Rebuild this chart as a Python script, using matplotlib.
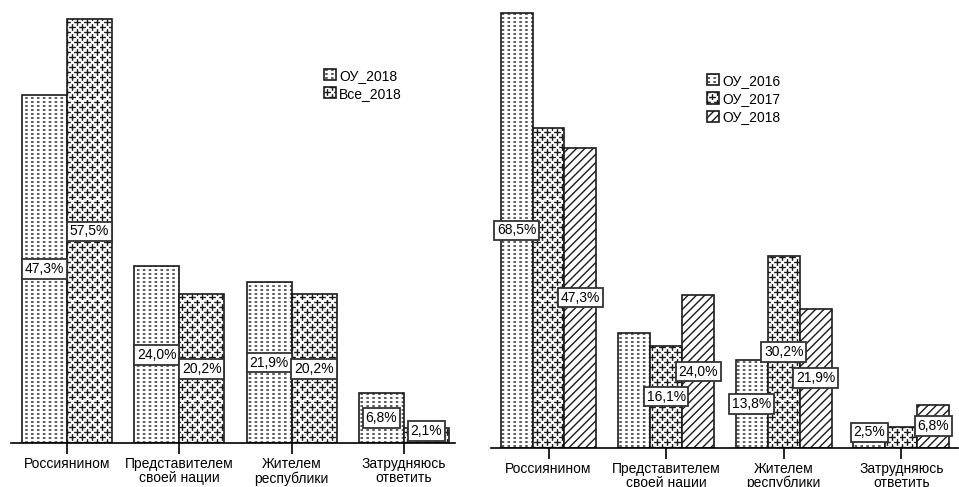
"""Two grouped bar panels: self-identification answers (share of respondents),
left panel ОУ_2018 vs Все_2018, right panel ОУ_2016 / ОУ_2017 / ОУ_2018.
"""

import numpy as np
import matplotlib

matplotlib.use("Agg")
import matplotlib.pyplot as plt
from matplotlib import hatch as mhatch
from matplotlib.path import Path

categories = [
    "Россиянином",
    "Представителем\nсвоей нации",
    "Жителем\nреспублики",
    "Затрудняюсь\nответить",
]

# left panel
left_names = ["ОУ_2018", "Все_2018"]
ou_2018 = [47.3, 24.0, 21.9, 6.8]
vse_2018 = [57.5, 20.2, 20.2, 2.1]

# right panel (ou_2018 is shared with the left panel)
right_names = ["ОУ_2016", "ОУ_2017", "ОУ_2018"]
ou_2016 = [68.5, 18.1, 13.8, 2.5]
ou_2017 = [50.4, 16.1, 30.2, 3.3]
# which right-panel bars carry a value label in the original
right_shown = [
    [True, False, True, True],
    [False, True, True, False],
    [True, True, True, True],
]


# Custom hatches: the source uses staggered "+" marks and a grid of short
# dashes, which matplotlib has no pattern for. They take over 'o' and '.'.
class PlusHatch(mhatch.HatchPatternBase):
    def __init__(self, hatch, density):
        n = hatch.count("o")
        self.nx, self.ny = 10 * n, 20 * n
        self.num_vertices = 4 * self.nx * self.ny

    def set_vertices_and_codes(self, vertices, codes):
        j, i = np.mgrid[0:self.ny, 0:self.nx]
        x = ((i + 0.25 + 0.5 * (j % 2)) / self.nx).ravel()
        y = ((j + 0.5) / self.ny).ravel()
        a = 0.27 / self.nx
        v = np.stack([np.c_[x - a, y], np.c_[x + a, y],
                      np.c_[x, y - a], np.c_[x, y + a]], axis=1)
        vertices[:] = v.reshape(-1, 2)
        codes[0::2] = Path.MOVETO
        codes[1::2] = Path.LINETO


class DashHatch(mhatch.HatchPatternBase):
    def __init__(self, hatch, density):
        n = hatch.count(".")
        self.nx, self.ny = 17 * n, 25 * n
        self.num_vertices = 2 * self.nx * self.ny

    def set_vertices_and_codes(self, vertices, codes):
        j, i = np.mgrid[0:self.ny, 0:self.nx]
        x = ((i + 0.5) / self.nx).ravel()
        y = ((j + 0.5) / self.ny).ravel()
        a = 0.1 / self.nx
        v = np.stack([np.c_[x - a, y], np.c_[x + a, y]], axis=1)
        vertices[:] = v.reshape(-1, 2)
        codes[0::2] = Path.MOVETO
        codes[1::2] = Path.LINETO


mhatch._hatch_types = [mhatch.HorizontalHatch, mhatch.VerticalHatch,
                       mhatch.NorthEastHatch, mhatch.SouthEastHatch,
                       PlusHatch, DashHatch]

plt.rcParams["font.family"] = ["Liberation Sans", "DejaVu Sans"]
plt.rcParams["hatch.linewidth"] = 1.0

W, H = 959, 487
fig = plt.figure(figsize=(W / 100, H / 100), dpi=100)


def make_axes(x0, x1, base, top, tick0, step, scale):
    ax = fig.add_axes([x0 / W, (H - base) / H, (x1 - x0) / W, (base - top) / H])
    ax.set_xlim((x0 - tick0) / step, (x1 - tick0) / step)
    ax.set_ylim(0, (base - top) / scale)
    for side in ("left", "right", "top"):
        ax.spines[side].set_visible(False)
    ax.spines["bottom"].set_linewidth(1.2)
    ax.yaxis.set_visible(False)
    ax.set_xticks(range(len(categories)))
    ax.set_xticklabels(categories, fontsize=10, linespacing=1.0)
    ax.tick_params(axis="x", length=8, width=1.2, pad=2)
    return ax


def label_bars(ax, bars, values, shown, floor):
    for rect, v, s in zip(bars, values, shown):
        if not s:
            continue
        ax.text(rect.get_x() + rect.get_width() / 2, max(v / 2, floor),
                f"{v:.1f}%".replace(".", ","), ha="center", va="center",
                fontsize=10, zorder=5,
                bbox=dict(boxstyle="square,pad=0.2", fc="white",
                          ec="#333333", lw=1.3))


bar_style = dict(edgecolor="#1a1a1a", linewidth=1.2, facecolor="white")
x = np.arange(len(categories))

# ---- left panel
ax1 = make_axes(11, 455, 443.3, 5, 67, 112.3, 7.374)
w1 = 0.4
b_ou = ax1.bar(x - w1 / 2, ou_2018, w1, hatch=".", label=left_names[0], **bar_style)
b_vse = ax1.bar(x + w1 / 2, vse_2018, w1, hatch="o", label=left_names[1], **bar_style)
label_bars(ax1, b_ou, ou_2018, [True] * 4, 1.7)
label_bars(ax1, b_vse, vse_2018, [True] * 4, 1.7)

# ---- right panel
ax2 = make_axes(491, 958, 447.7, 5, 548.5, 117.6, 6.342)
w2 = 0.272
right_bars = []
for k, (vals, hatch, name) in enumerate(zip([ou_2016, ou_2017, ou_2018],
                                            [".", "o", "////"], right_names)):
    right_bars.append(ax2.bar(x + (k - 1) * w2, vals, w2, hatch=hatch,
                              label=name, **bar_style))
for bars, vals, shown in zip(right_bars, [ou_2016, ou_2017, ou_2018], right_shown):
    label_bars(ax2, bars, vals, shown, 2.4)

legend_style = dict(loc="upper left", frameon=False, fontsize=10,
                    handlelength=0.85, handleheight=0.85, handletextpad=0.25,
                    labelspacing=0.3, borderpad=0, borderaxespad=0)
ax1.legend(bbox_to_anchor=(0.705, 0.855), **legend_style)
ax2.legend(bbox_to_anchor=(0.463, 0.845), **legend_style)

fig.savefig("out.png", dpi=100)
